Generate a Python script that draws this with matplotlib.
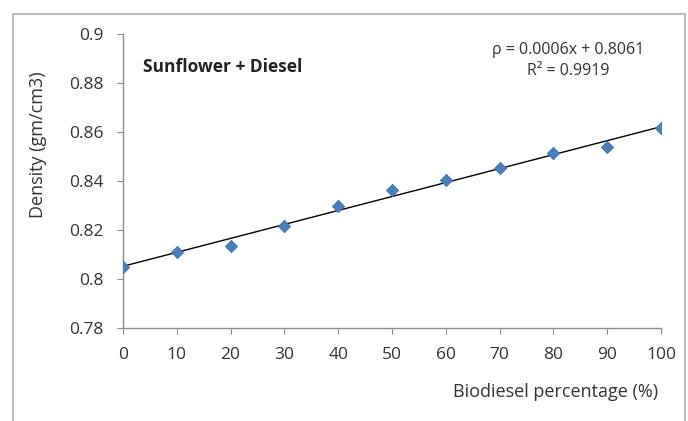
import numpy as np
import matplotlib.pyplot as plt
from matplotlib.patches import Rectangle

# data
biodiesel = [0, 10, 20, 30, 40, 50, 60, 70, 80, 90, 100]
density = [0.805, 0.8111, 0.8136, 0.8216, 0.8299, 0.8363, 0.8404, 0.8453, 0.8515, 0.854, 0.8617]
yticks = [0.78, 0.8, 0.82, 0.84, 0.86, 0.88, 0.9]
ytick_labels = ['0.78', '0.8', '0.82', '0.84', '0.86', '0.88', '0.9']

plt.rcParams['font.family'] = ['Open Sans', 'DejaVu Sans']

W, H = 688, 421
fig = plt.figure(figsize=(W / 100, H / 100), dpi=100)
fig.patch.set_facecolor('white')

# outer chart frame
fig.add_artist(Rectangle((13 / W, -0.05), (685 - 13) / W, 1.05 - 14 / H,
                         transform=fig.transFigure, fill=False,
                         edgecolor='#bdbdbd', linewidth=1.5))

ax = fig.add_axes([123 / W, 1 - 328 / H, (661 - 123) / W, (328 - 34) / H])

coef = np.polyfit(biodiesel, density, 1)
xs = np.array([0, 100])
ax.plot(xs, np.polyval(coef, xs), color='black', linewidth=1.0, zorder=2)
ax.scatter(biodiesel, density, marker='D', s=40, color='#4a7ebb',
           edgecolor='#3a6aa5', linewidth=0.5, zorder=3)

ax.set_xlim(0, 100)
ax.set_ylim(0.78, 0.9)
ax.set_xticks(biodiesel)
ax.set_yticks(yticks)
ax.set_yticklabels(ytick_labels)

for s in ['top', 'right']:
    ax.spines[s].set_visible(False)
for s in ['left', 'bottom']:
    ax.spines[s].set_color('#8c8c8c')
    ax.spines[s].set_linewidth(1.0)
ax.tick_params(direction='out', length=4, color='#8c8c8c', labelsize=12.5,
               labelcolor='#333333')
ax.tick_params(axis='x', pad=10)
ax.tick_params(axis='y', pad=10)

fig.text(38 / W, 1 - 145 / H, 'Density (gm/cm3)', rotation=90, ha='center',
         va='center', fontsize=13, color='#333333')
fig.text(658 / W, 1 - 392 / H, 'Biodiesel percentage (%)', ha='right',
         va='center', fontsize=13, color='#333333')
fig.text(143 / W, 1 - 67 / H, 'Sunflower + Diesel', ha='left', va='center',
         fontsize=12.5, fontweight='bold', color='#222222')
fig.text(568 / W, 1 - 50 / H, 'ρ = 0.0006x + 0.8061', ha='center',
         va='center', fontsize=11.5, color='#333333')
fig.text(568 / W, 1 - 71 / H, 'R² = 0.9919', ha='center',
         va='center', fontsize=11.5, color='#333333')

fig.savefig('out.png', dpi=100)
